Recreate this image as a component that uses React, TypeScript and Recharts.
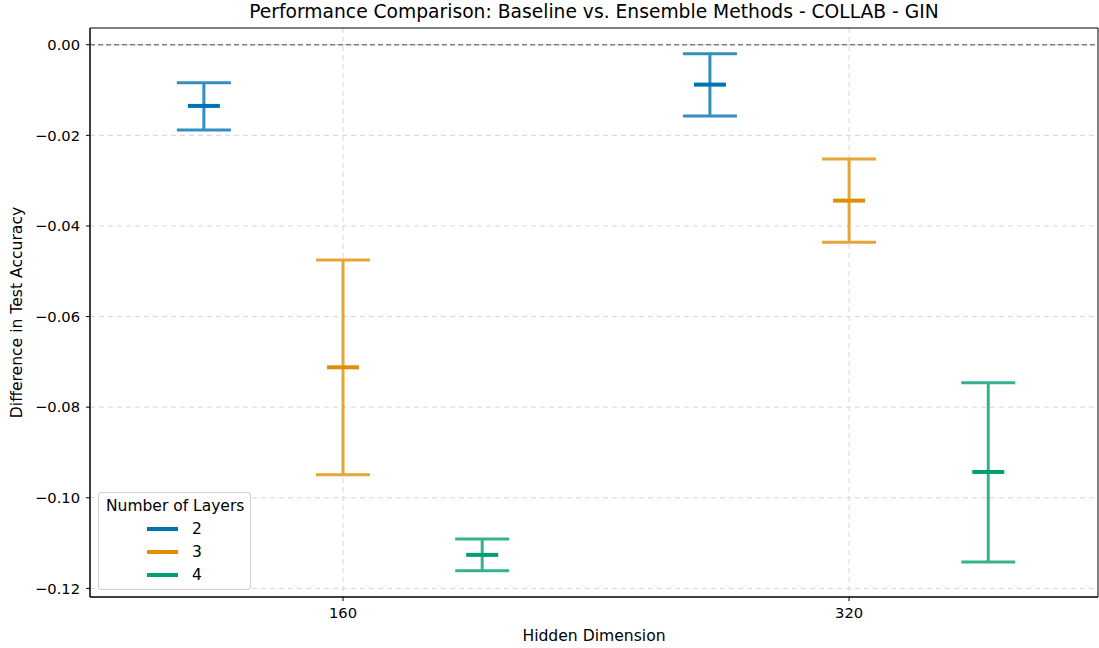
import {
  CartesianGrid,
  ComposedChart,
  ErrorBar,
  Label,
  ReferenceArea,
  ReferenceLine,
  Scatter,
  XAxis,
  YAxis,
} from 'recharts'

// Hidden dimensions on the x axis; each layer count is shifted left / centre / right.
const hiddenDims = [160, 320]
const layerOffsets = [-44, 0, 44]
const layerNames = ['2', '3', '4']

// Mean difference and the lower / upper bounds of each bar, per layer count.
const layers2Mean = [-0.0135, -0.0088]
const layers2Low = [-0.0188, -0.0157]
const layers2High = [-0.0084, -0.002]

const layers3Mean = [-0.0712, -0.0344]
const layers3Low = [-0.0949, -0.0436]
const layers3High = [-0.0475, -0.0252]

const layers4Mean = [-0.1126, -0.0943]
const layers4Low = [-0.1161, -0.1142]
const layers4High = [-0.1091, -0.0746]

const yTicks = [0, -0.02, -0.04, -0.06, -0.08, -0.1, -0.12]
const xDomain: [number, number] = [80, 398.7]
const yDomain: [number, number] = [-0.1219, 0.0037]

const meanColors = ['#0173b2', '#de8f05', '#029e73']
const barColors = ['#348fc1', '#e5a537', '#35b18f']

const FONT = '"DejaVu Sans", sans-serif'

function buildRows(layer: number, mean: number[], low: number[], high: number[]) {
  return hiddenDims.map((d, i) => ({
    x: d + layerOffsets[layer],
    y: mean[i],
    err: [mean[i] - low[i], high[i] - mean[i]],
  }))
}

const series = [
  buildRows(0, layers2Mean, layers2Low, layers2High),
  buildRows(1, layers3Mean, layers3Low, layers3High),
  buildRows(2, layers4Mean, layers4Low, layers4High),
]

const fmt = (v: number) => {
  const s = Math.abs(v).toFixed(2)
  return v < -1e-9 ? `\u2212${s}` : s
}

function meanMark(color: string) {
  return (props: { cx?: number; cy?: number }) => {
    const { cx = 0, cy = 0 } = props
    return <rect x={cx - 16} y={cy - 2} width={32} height={4} fill={color} />
  }
}

export default function App() {
  return (
    <div
      style={{
        position: 'absolute',
        left: 0,
        top: 0,
        width: 1099,
        height: 648,
        background: '#fff',
        fontFamily: FONT,
      }}
    >
      <div
        style={{
          position: 'absolute',
          left: 90,
          width: 1008,
          top: 1,
          textAlign: 'center',
          fontSize: 18.7,
          color: '#000',
          whiteSpace: 'nowrap',
        }}
      >
        Performance Comparison: Baseline vs. Ensemble Methods - COLLAB - GIN
      </div>
      <ComposedChart
        width={1099}
        height={648}
        margin={{ top: 28, right: 1, bottom: 0, left: 0 }}
      >
        <CartesianGrid
          stroke="#d6d6d6"
          strokeDasharray="5 4"
          horizontalValues={yTicks}
          verticalValues={hiddenDims}
        />
        <XAxis
          type="number"
          dataKey="x"
          domain={xDomain}
          ticks={hiddenDims}
          allowDataOverflow
          height={51}
          axisLine={{ stroke: '#000', strokeWidth: 1 }}
          tickLine={{ stroke: '#000' }}
          tickSize={4}
          tickMargin={7}
          tick={{ fontSize: 14.7, fill: '#000', fontFamily: FONT }}
        >
          <Label
            value="Hidden Dimension"
            position="insideBottom"
            offset={7}
            style={{ fontSize: 15.6, fill: '#000', fontFamily: FONT }}
          />
        </XAxis>
        <YAxis
          type="number"
          dataKey="y"
          domain={yDomain}
          ticks={yTicks}
          allowDataOverflow
          width={90}
          axisLine={{ stroke: '#000', strokeWidth: 1 }}
          tickLine={{ stroke: '#000' }}
          tickSize={4}
          tickMargin={6}
          tickFormatter={fmt}
          tick={{ fontSize: 14.7, fill: '#000', fontFamily: FONT }}
        >
          <Label
            value="Difference in Test Accuracy"
            angle={-90}
            position="insideLeft"
            offset={16}
            style={{ fontSize: 15.6, fill: '#000', fontFamily: FONT, textAnchor: 'middle' }}
          />
        </YAxis>
        <ReferenceArea
          x1={xDomain[0]}
          x2={xDomain[1]}
          y1={yDomain[0]}
          y2={yDomain[1]}
          fill="none"
          stroke="#000"
          strokeWidth={1}
        />
        <ReferenceLine y={0} stroke="#808080" strokeDasharray="5 3" strokeWidth={1.3} />
        {series.map((rows, i) => (
          <Scatter
            key={layerNames[i]}
            name={layerNames[i]}
            data={rows}
            isAnimationActive={false}
            shape={meanMark(meanColors[i])}
          >
            <ErrorBar
              dataKey="err"
              direction="y"
              width={27}
              stroke={barColors[i]}
              strokeWidth={3}
              isAnimationActive={false}
            />
          </Scatter>
        ))}
      </ComposedChart>
      <div
        style={{
          position: 'absolute',
          left: 98,
          top: 492,
          width: 153,
          height: 98,
          border: '1px solid #d0d0d0',
          borderRadius: 3,
          background: 'rgba(255,255,255,0.85)',
          boxSizing: 'border-box',
          fontSize: 15.5,
          color: '#000',
        }}
      >
        <div style={{ position: 'absolute', left: 7, top: 4, whiteSpace: 'nowrap' }}>
          Number of Layers
        </div>
        {layerNames.map((n, i) => (
          <div
            key={n}
            style={{
              position: 'absolute',
              left: 48,
              top: 26 + i * 23,
              height: 20,
              display: 'flex',
              alignItems: 'center',
            }}
          >
            <div style={{ width: 31, height: 4, background: meanColors[i] }} />
            <span style={{ marginLeft: 14 }}>{n}</span>
          </div>
        ))}
      </div>
    </div>
  )
}
